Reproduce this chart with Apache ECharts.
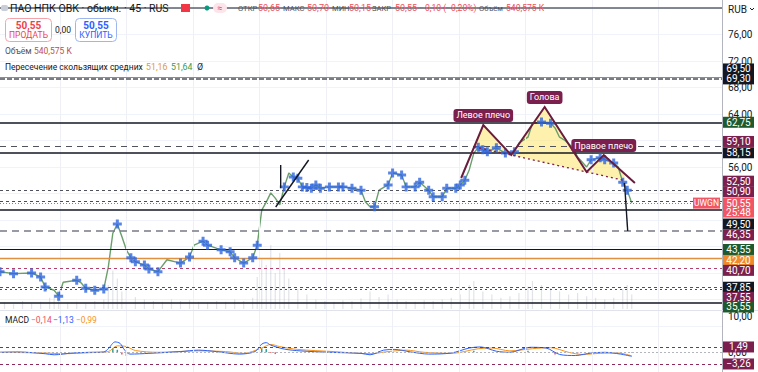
<!DOCTYPE html>
<html><head><meta charset="utf-8">
<script src="https://cdn.jsdelivr.net/npm/echarts@6/dist/echarts.min.js"></script>
<style>html,body{margin:0;padding:0;background:#fff;}#c{width:758px;height:372px;}</style>
</head><body><div id="c"></div>
<script>
// ---------------- DATA ----------------
const closes = [[0,40.2],[3,39.9],[7,40.0],[9,39.4],[10,37.9],[12,37.4],[13,36.5],[14,38.6],[17,38.9],[18,38.5],[19,37.7],[21,37.4],[23,37.6],[24,40.9],[25,46.0],[26,47.4],[27,45.5],[28,43.5],[29,42.3],[30,41.7],[32,41.2],[33,40.6],[35,40.2],[37,42.0],[40,41.5],[42,42.4],[43,44.2],[45,44.8],[46,44.2],[49,43.5],[51,43.2],[52,42.3],[54,41.5],[56,42.3],[57,44.2],[58,49.5],[59,50.7],[60,52.1],[61,51.3],[62,50.3],[63,53.0],[64,55.1],[65,54.5],[66,54.3],[67,53.0],[68,52.9],[69,52.8],[70,53.3],[71,52.8],[73,53.0],[75,53.0],[76,53.0],[78,52.8],[80,52.5],[81,50.7],[82,50.0],[83,50.0],[84,52.5],[86,53.3],[87,55.1],[89,54.8],[90,53.0],[92,53.0],[93,53.7],[95,52.5],[96,51.5],[98,51.5],[99,52.8],[101,52.8],[102,53.3],[103,54.0],[104,55.6],[105,58.1],[106,59.0],[107,58.6],[108,58.3],[110,58.9],[112,58.1],[114,58.3],[115,59.6],[117,60.5],[118,62.6],[120,62.8],[122,62.6],[123,61.9],[124,60.5],[125,60.1],[127,58.9],[128,57.5],[130,56.0],[131,57.1],[133,57.4],[134,57.1],[136,56.6],[137,56.0],[138,53.7],[139,52.5],[140,50.55]];
const signalBars = [0,3,7,9,10,13,17,19,21,23,26,29,30,32,33,35,40,42,45,46,49,51,52,54,56,57,63,65,66,67,68,69,70,71,73,75,76,78,80,83,86,87,89,90,92,93,95,96,98,99,101,102,103,106,107,108,110,112,114,120,122,131,133,134,136,138,139];
const volumes = [[1,8],[3,6],[5,10],[7,7],[9,9],[11,14],[12,18],[13,12],[15,8],[17,9],[19,7],[21,10],[23,12],[24,30],[25,48],[26,38],[27,22],[28,30],[30,15],[32,12],[34,10],[36,9],[38,12],[40,10],[42,11],[44,9],[46,8],[48,10],[50,9],[52,12],[54,10],[56,14],[57,40],[58,62],[59,55],[60,80],[61,45],[62,70],[63,50],[64,38],[66,25],[68,18],[70,12],[72,10],[74,9],[76,11],[78,10],[80,13],[82,22],[84,15],[86,18],[88,12],[90,10],[92,9],[94,11],[96,10],[98,12],[100,14],[102,18],[104,30],[105,35],[107,22],[109,18],[111,14],[113,16],[115,20],[117,28],[118,35],[120,30],[122,26],[124,22],[126,18],[128,20],[130,16],[132,14],[134,12],[136,14],[138,25],[139,30],[140,18]];
const macdLine = [[0,0.0],[4,0.1],[10,-0.4],[12,-0.7],[16,-0.2],[20,0.0],[23,0.1],[24,1.0],[25.5,2.9],[26.6,2.5],[27.7,0.5],[28.8,-0.5],[33,-0.3],[40,0.2],[44,0.6],[48,0.2],[53,-0.5],[56.5,0.2],[58,2.3],[59,2.7],[60,2.0],[63,0.9],[66.5,0.4],[73,0.0],[80,-0.3],[82,-0.7],[85,0.6],[87.5,0.8],[91,0.1],[95,-0.5],[100,-0.2],[104,1.2],[106.5,1.5],[110,0.3],[113,0.0],[117.5,1.4],[121,1.2],[124,-0.6],[127.5,-0.9],[131,-0.2],[134,0.0],[137.5,-0.5],[140,-1.13]];
const signalLine = [[0,0.0],[10,-0.2],[14,-0.4],[20,-0.1],[24,0.2],[26,1.8],[28,1.6],[30,0.5],[35,0.0],[44,0.4],[50,0.2],[54,-0.3],[58,1.2],[60,2.2],[62,1.6],[66,0.8],[74,0.2],[82,-0.4],[86,0.2],[90,0.6],[94,0.0],[100,-0.3],[106,1.0],[109,1.2],[113,0.4],[118,1.0],[122,1.3],[126,0.0],[129,-0.6],[133,-0.3],[137,-0.2],[140,-0.99]];
const macdHist = [[25,1.1],[26,0.7],[27,-0.6],[28,-1.0],[58,1.1],[59,0.9],[60,-0.2],[61,-0.5],[84,0.3],[105,0.4],[117,0.4],[123,-0.6],[128,-0.3],[140,-0.14]];
const levelPrices = [80, 69.50, 69.30, 62.75, 59.10, 58.15, 52.50, 50.90, 50.55, 49.50, 46.35, 43.55, 42.20, 40.70, 37.85, 37.55, 35.55];
const macdLevels = [1.49, -3.26];
const priceAxisShown = [76, 72, 68, 64, 56];
const macdAxisShown = [10, 0];
const patternLine = [[102.2,54.34],[107.1,62.34],[113.3,57.81],[120.7,65.06],[130,55.25],[133.8,57.81],[140.7,53.58]];
const neckline = [[105.1,59.06],[113.3,57.81],[130,55.25],[138.4,53.96]];
const patternFills = [[[105.1,59.06],[107.1,62.34],[113.3,57.81]],[[113.3,57.81],[120.7,65.06],[130,55.25]],[[130,55.25],[133.8,57.81],[138.4,54.99],[138.4,53.96]]];
const patternNames = ['Левое плечо','Голова','Правое плечо'];
const patternNameVertex = [1,3,5];
const trendLines = [[[61.1,49.96],[68.4,57.06]],[[62.2,56.3],[62.2,52.8]],[[138.4,53.6],[139.1,46.35]]];
const timeGridBars = [13.3,28.0,42.8,57.5,72.2,87.0,101.7,116.5,131.2,145.9];
const lastPrice = 50.55, countdown = '25:48', ticker = 'UWGN';

// ---------------- STYLE / LAYOUT ----------------
const FONT = 'Roboto';
const levelStyle = [
 ['#5d606b',1.5,'solid'],['#8a8d96',1,'solid'],['#50535e',1.5,[5,2]],['#131722',1.5,'solid'],
 ['#50535e',1.2,[6,5]],['#131722',1.5,'solid'],['#50535e',1,[3,3]],['#8e2a5a',1,[3,3]],
 ['#f7525f',1,[1,2]],['#131722',1.5,'solid'],['#787b86',1.5,[7,5]],['#131722',1.2,'solid'],
 ['#e0913f',1.3,'solid'],['#b0406e',1,[3,3]],['#50535e',1,[3,3]],['#8e2a5a',1,[2,3]],['#131722',1.5,'solid']];
const MAROON='#7b1f4e', GREEN='#1e5a2d', BLACK='#131722', ORANGE='#f08a2b', RED='#f25563';
const tagColor = [null,BLACK,BLACK,GREEN,MAROON,BLACK,MAROON,MAROON,RED,BLACK,MAROON,GREEN,ORANGE,MAROON,BLACK,MAROON,GREEN];
const tagNudge = [0,-8.6,0,0,-5,0,-9,-9,0,14,4,0,2,2,0,8,4.5];
const fmt = v => v.toFixed(2).replace('.', ',').replace('-', '−');

const crossPts = closes.filter(d => signalBars.indexOf(d[0]) >= 0);

const option = {
  animation: false,
  backgroundColor: '#ffffff',
  textStyle: {fontFamily: FONT},
  grid: [
    {left:0, right:36, top:8, height:318, containLabel:false, outerBoundsMode:'none'},
    {left:0, right:36, top:229, height:80, containLabel:false, outerBoundsMode:'none'},
    {left:0, right:36, top:280.7, height:107.4, containLabel:false, outerBoundsMode:'none'},
    {left:0, right:36, top:0, height:372, containLabel:false, outerBoundsMode:'none'}
  ],
  xAxis: [0,1,2,3].map(i => ({type:'value', gridIndex:i, min:0, max:160, show:false})),
  yAxis: [
    {type:'value', gridIndex:0, position:'right', min:32, max:80, interval:4,
     axisLine:{show:false}, axisTick:{show:false},
     splitLine:{lineStyle:{color:'#f0f3fa', width:1}},
     axisLabel:{margin:6, fontSize:10, fontFamily:FONT, color:'#131722',
       formatter: v => priceAxisShown.indexOf(v) >= 0 ? fmt(v) : ''}},
    {type:'value', gridIndex:1, min:0, max:100, show:false},
    {type:'value', gridIndex:2, position:'right', min:-10, max:20, interval:10,
     axisLine:{show:false}, axisTick:{show:false}, splitLine:{show:false},
     axisLabel:{margin:6, fontSize:10, fontFamily:FONT, color:'#131722',
       formatter: v => macdAxisShown.indexOf(v) >= 0 ? fmt(v) : ''}},
    {type:'value', gridIndex:3, min:0, max:1, show:false}
  ],
  series: [
    {type:'line', xAxisIndex:3, yAxisIndex:3, data:[[0,0]], symbol:'none', z:0, silent:true,
     lineStyle:{opacity:0},
     markLine:{silent:true, symbol:['none','none'], label:{show:false}, animation:false,
       lineStyle:{color:'#eef0f5', width:1, type:'solid'},
       data: timeGridBars.map(b => ({xAxis:b}))}},
    {type:'bar', xAxisIndex:1, yAxisIndex:1, data:volumes, barWidth:1.2, z:1, silent:true,
     itemStyle:{color:'rgba(170,176,190,0.35)'}},
    {type:'line', xAxisIndex:0, yAxisIndex:0, data:[[0,60]], symbol:'none', z:2, silent:true,
     lineStyle:{opacity:0},
     markLine:{silent:true, symbol:['none','none'], label:{show:false}, animation:false,
       data: levelPrices.map((p,i) => ({yAxis:p, lineStyle:{color:levelStyle[i][0], width:levelStyle[i][1], type:levelStyle[i][2]}}))}},
    {type:'custom', xAxisIndex:0, yAxisIndex:0, data:[[0,0]], z:3, silent:true,
     renderItem: function(params, api){
       const ch = [];
       patternFills.forEach(poly => ch.push({type:'polygon', shape:{points: poly.map(p => api.coord(p))}, style:{fill:'rgba(253,231,120,0.6)', stroke:null}}));
       return {type:'group', children: ch};
     }},
    {type:'line', xAxisIndex:0, yAxisIndex:0, data:closes, symbol:'none', z:4,
     lineStyle:{color:'#6a9f6c', width:1.4}},
    {type:'scatter', xAxisIndex:0, yAxisIndex:0, data:crossPts, z:5,
     symbol:'path://M3,0H6V3H9V6H6V9H3V6H0V3H3Z', symbolSize:9,
     itemStyle:{color:'#2f66e0'}},
    {type:'custom', xAxisIndex:0, yAxisIndex:0, data:[[0,0]], z:6, silent:true,
     renderItem: function(params, api){
       const ch = [];
       ch.push({type:'polyline', shape:{points: neckline.map(p => api.coord(p))}, style:{stroke:'#7b1f4e', lineWidth:1.3, lineDash:[2,3], fill:null}});
       ch.push({type:'polyline', shape:{points: patternLine.map(p => api.coord(p))}, style:{stroke:'#6a1c3d', lineWidth:2, fill:null}});
       trendLines.forEach(l => ch.push({type:'polyline', shape:{points: l.map(p => api.coord(p))}, style:{stroke:'#131722', lineWidth:1.4, fill:null}}));
       patternNameVertex.forEach((vi,k) => {
         const c = api.coord(patternLine[vi]);
         ch.push({type:'text', x:c[0], y:c[1]-3, style:{text:patternNames[k], fill:'#ffffff', backgroundColor:'#7b1f4e',
           padding:[2,3,2,3], borderRadius:3, align:'center', verticalAlign:'bottom', fontSize:9, fontFamily:FONT}});
       });
       return {type:'group', children: ch};
     }},
    {type:'bar', xAxisIndex:2, yAxisIndex:2, data:macdHist, barWidth:1.5, z:2, silent:true,
     itemStyle:{color: p => p.value[1] >= 0 ? '#26a69a' : '#ef5350'}},
    {type:'line', xAxisIndex:2, yAxisIndex:2, data:signalLine, symbol:'none', z:3, smooth:0.3,
     lineStyle:{color:'#f7931a', width:1}},
    {type:'line', xAxisIndex:2, yAxisIndex:2, data:macdLine, symbol:'none', z:4, smooth:0.3,
     lineStyle:{color:'#2962ff', width:1},
     markLine:{silent:true, symbol:['none','none'], label:{show:false}, animation:false,
       data: [{yAxis:0, lineStyle:{color:'#b2b5be', width:1, type:[2,2]}}]
         .concat(macdLevels.map(v => ({yAxis:v, lineStyle:{color:'#8e2a5a', width:1, type:[3,3]}})))}}
  ]
};

const chart = echarts.init(document.getElementById('c'), null, {renderer:'svg'});
chart.setOption(option);

const py = p => chart.convertToPixel({yAxisIndex:0}, p);
const my = v => chart.convertToPixel({yAxisIndex:2}, v);

function txt(x, y, s, color, size, opts){
  opts = opts || {};
  return {type:'text', x:x, y:y, z:100, silent:true, style:{text:s, fill:color, fontSize:size, fontFamily:FONT,
    fontWeight:opts.bold?'bold':'normal', align:opts.align||'left', textAlign:opts.align||'left',
    verticalAlign:'middle', textVerticalAlign:'middle'}};
}
function tag(yc, s, bg, h){
  h = h || 11;
  return [{type:'rect', z:100, silent:true, shape:{x:723, y:yc-h/2, width:31, height:h}, style:{fill:bg}},
          txt(738.5, yc, s, '#ffffff', 10, {align:'center'})];
}

const g = [];
g.push({type:'line', z:90, silent:true, shape:{x1:722.5, y1:0, x2:722.5, y2:372}, style:{stroke:'#b2b5be', lineWidth:1}});
g.push({type:'line', z:90, silent:true, shape:{x1:0, y1:310.5, x2:758, y2:310.5}, style:{stroke:'#e0e3eb', lineWidth:1}});
// header
g.push({type:'rect', z:100, shape:{x:1, y:5, width:7, height:6, r:2}, style:{fill:'#c9cdd8'}});
g.push(txt(10, 8, 'ПАО НПК ОВК · обыкн. · 45 · RUS', '#131722', 10.5));
g.push({type:'rect', z:100, shape:{x:181, y:4, width:9, height:8}, style:{fill:'#f23645'}});
g.push({type:'circle', z:100, shape:{cx:207, cy:8, r:2.5}, style:{fill:'#089981'}});
g.push({type:'rect', z:100, shape:{x:213, y:3, width:14, height:10, r:5}, style:{fill:'#fde3ea'}});
g.push(txt(220, 8, '≈', '#e0457b', 9, {align:'center'}));
[[238,'ОТКР','#50535e',7.6],[258,'50,65','#ef4f5a',9],[283,'МАКС','#50535e',7.6],[307,'50,70','#ef4f5a',9],
 [332,'МИН','#50535e',7.6],[349,'50,15','#ef4f5a',9],[372,'ЗАКР','#50535e',7.6],[395,'50,55','#ef4f5a',9],
 [420,'−0,10 (−0,20%)','#ef4f5a',8.6],[479,'Объём','#50535e',7.6],[506,'540,575 K','#ef4f5a',8.6]]
 .forEach(a => g.push(txt(a[0], 8, a[1], a[2], a[3])));
// buttons
g.push({type:'rect', z:100, shape:{x:5.5, y:18.5, width:46, height:23, r:4}, style:{fill:'#fff', stroke:'#f5a3aa', lineWidth:1}});
g.push(txt(28.5, 25, '50,55', '#ef3f4c', 10, {align:'center', bold:true}));
g.push(txt(28.5, 35, 'ПРОДАТЬ', '#ef3f4c', 8.5, {align:'center'}));
g.push(txt(63, 30, '0,00', '#131722', 8.5, {align:'center'}));
g.push({type:'rect', z:100, shape:{x:75.5, y:18.5, width:41, height:23, r:4}, style:{fill:'#fff', stroke:'#9db6f0', lineWidth:1}});
g.push(txt(96, 25, '50,55', '#2962ff', 10, {align:'center', bold:true}));
g.push(txt(96, 35, 'КУПИТЬ', '#2962ff', 8.5, {align:'center'}));
g.push(txt(5, 51, 'Объём', '#50535e', 8.5));
g.push(txt(34, 51, '540,575 K', '#c0504d', 8.5));
g.push(txt(5, 67, 'Пересечение скользящих средних', '#131722', 8.5));
g.push(txt(146, 67, '51,16', '#e39a2c', 8.8));
g.push(txt(171, 67, '51,64', '#3c9a4a', 8.8));
g.push(txt(197, 67, 'Ø', '#131722', 8.8));
// currency box
g.push({type:'rect', z:95, shape:{x:723, y:0, width:35, height:18}, style:{fill:'#fff'}});
g.push(txt(728, 9, 'RUB', '#131722', 10));
g.push({type:'polyline', z:100, shape:{points:[[750,8],[752,10],[754,8]]}, style:{stroke:'#131722', lineWidth:1, fill:null}});
// price tags
levelPrices.forEach((p, i) => {
  if (!tagColor[i]) return;
  const y = py(p);
  if (p === lastPrice) {
    g.push({type:'rect', z:100, shape:{x:723, y:y-5.5, width:31, height:20}, style:{fill:RED}});
    g.push(txt(738.5, y, fmt(p), '#fff', 10, {align:'center'}));
    g.push(txt(738.5, y+9, countdown, '#fff', 10, {align:'center'}));
    g.push({type:'rect', z:100, shape:{x:693, y:y-5.5, width:27, height:11}, style:{fill:RED}});
    g.push(txt(706.5, y, ticker, '#fff', 8.5, {align:'center'}));
    return;
  }
  tag(y + tagNudge[i], fmt(p), tagColor[i]).forEach(e => g.push(e));
});
macdLevels.forEach(v => tag(my(v), fmt(v), MAROON).forEach(e => g.push(e)));
// MACD legend
g.push(txt(5, 320, 'MACD', '#131722', 8.5));
g.push(txt(31, 320, '−0,14', '#ef4f5a', 8.5));
g.push(txt(53, 320, '−1,13', '#2962ff', 8.5));
g.push(txt(76, 320, '−0,99', '#f7931a', 8.5));

chart.setOption({graphic: {elements: g}});
</script>
</body></html>
